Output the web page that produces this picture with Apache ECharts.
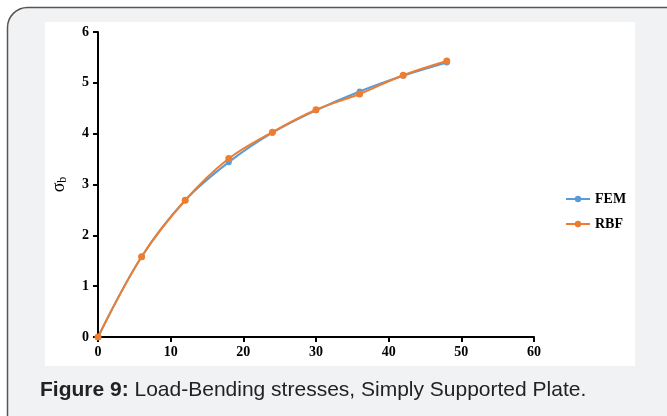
<!DOCTYPE html>
<html>
<head>
<meta charset="utf-8">
<style>
  html, body { margin: 0; padding: 0; background: #ffffff; }
  #chart { width: 667px; height: 416px; }
</style>
<script src="https://cdn.jsdelivr.net/npm/echarts@6/dist/echarts.min.js"></script>
</head>
<body>
<div id="chart"></div>
<script>
// Applied load steps
var loads = [0, 6, 12, 18, 24, 30, 36, 42, 48];
// Bending stress, finite element solution
var femStress = [0, 1.58, 2.69, 3.44, 4.02, 4.46, 4.83, 5.14, 5.40];
// Bending stress, radial basis function solution
var rbfStress = [0, 1.58, 2.69, 3.51, 4.03, 4.47, 4.78, 5.15, 5.43];
var xTicks = [0, 10, 20, 30, 40, 50, 60];
var yTicks = [0, 1, 2, 3, 4, 5, 6];

function pairs(xs, ys) {
  return xs.map(function (x, i) { return [x, ys[i]]; });
}

var serif = '"Liberation Serif", "DejaVu Serif", serif';
var sans = '"Liberation Sans", Arial, sans-serif';
var labelStyle = { color: '#000', fontFamily: serif, fontWeight: 'bold', fontSize: 14 };

var chart = echarts.init(document.getElementById('chart'), null, { renderer: 'canvas' });
chart.setOption({
  animation: false,
  backgroundColor: '#ffffff',
  graphic: [
    {
      type: 'rect', z: -10, silent: true,
      shape: { x: 7.5, y: 7.5, width: 700, height: 460, r: 20 },
      style: { fill: '#f1f2f4', stroke: '#555', lineWidth: 1.5 }
    },
    {
      type: 'rect', z: -9, silent: true,
      shape: { x: 45, y: 22, width: 590, height: 344 },
      style: { fill: '#ffffff' }
    },
    {
      type: 'text', z: 10, silent: true,
      left: 40, top: 380,
      style: {
        text: '{b|Figure 9:} Load-Bending stresses, Simply Supported Plate.',
        fill: '#222',
        font: '21px ' + sans,
        rich: {
          b: { fontWeight: 'bold', fontSize: 21, fontFamily: sans, fill: '#222' }
        }
      }
    }
  ],
  grid: { left: 98, right: 133, top: 32, bottom: 79, containLabel: false },
  legend: {
    orient: 'vertical',
    left: 560, top: 187,
    itemGap: 11,
    itemWidth: 24, itemHeight: 8,
    textStyle: { color: '#000', fontFamily: serif, fontWeight: 'bold', fontSize: 14 },
    data: ['FEM', 'RBF']
  },
  xAxis: {
    type: 'value', min: 0, max: 60, interval: 10,
    axisLine: { show: true, lineStyle: { color: '#000', width: 2 } },
    axisTick: { show: true, inside: false, length: 5, lineStyle: { color: '#000', width: 2 } },
    axisLabel: Object.assign({ margin: 8, formatter: function (v) { return xTicks.indexOf(v) >= 0 ? String(v) : ''; } }, labelStyle),
    splitLine: { show: false }
  },
  yAxis: {
    type: 'value', min: 0, max: 6, interval: 1,
    name: '{s|σ}{sub|b}',
    nameLocation: 'middle',
    nameGap: 29,
    nameRotate: 90,
    nameTextStyle: {
      rich: {
        s: { fontFamily: serif, fontSize: 18, color: '#000' },
        sub: { fontFamily: serif, fontSize: 12, color: '#000', verticalAlign: 'bottom', padding: [7, 0, 0, 0] }
      }
    },
    axisLine: { show: true, lineStyle: { color: '#000', width: 2 } },
    axisTick: { show: true, inside: false, length: 5, lineStyle: { color: '#000', width: 2 } },
    axisLabel: Object.assign({ margin: 9, formatter: function (v) { return yTicks.indexOf(v) >= 0 ? String(v) : ''; } }, labelStyle),
    splitLine: { show: false }
  },
  series: [
    {
      name: 'FEM', type: 'line', smooth: 0.35,
      data: pairs(loads, femStress),
      symbol: 'circle', symbolSize: 6,
      itemStyle: { color: '#5b9bd5' },
      lineStyle: { color: '#5b9bd5', width: 2 },
      z: 2
    },
    {
      name: 'RBF', type: 'line', smooth: 0.35,
      data: pairs(loads, rbfStress),
      symbol: 'circle', symbolSize: 7,
      itemStyle: { color: '#ed7d31' },
      lineStyle: { color: '#ed7d31', width: 2 },
      z: 3
    }
  ]
});
</script>
</body>
</html>
